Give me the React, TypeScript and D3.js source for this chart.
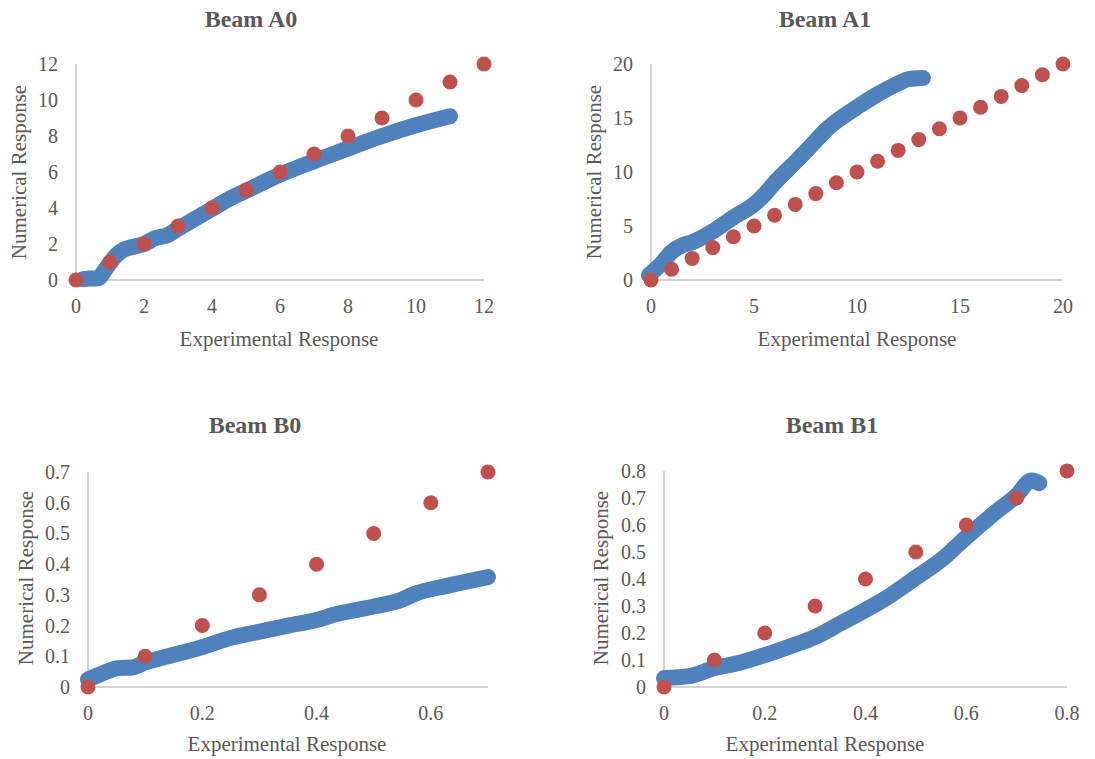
import React, { useEffect, useRef } from "react";
import * as d3 from "d3";

// numerical (blue) series, [experimental, numerical]
const beamA0Numerical = [
  [0.2, 0.05], [0.4, 0.08], [0.65, 0.1], [0.85, 0.55], [1.0, 0.95], [1.2, 1.4],
  [1.4, 1.68], [1.7, 1.85], [2.0, 2.0], [2.3, 2.3], [2.7, 2.5], [3.0, 2.85],
  [3.5, 3.4], [4.0, 3.95], [4.5, 4.5], [5.0, 4.95], [6.0, 5.85], [7.0, 6.6],
  [8.0, 7.3], [9.0, 8.0], [10.0, 8.6], [11.0, 9.1],
];
const beamA1Numerical = [
  [-0.1, 0.45], [0.5, 1.5], [1.0, 2.6], [1.5, 3.2], [2.0, 3.5], [3.0, 4.5],
  [4.0, 5.8], [5.0, 7.0], [5.5, 7.9], [6.0, 9.0], [7.0, 10.9], [8.0, 12.9],
  [8.5, 13.9], [9.0, 14.7], [10.0, 16.0], [11.0, 17.2], [12.0, 18.2],
  [12.5, 18.6], [13.2, 18.7],
];
const beamB0Numerical = [
  [0.0, 0.025], [0.02, 0.04], [0.054, 0.062], [0.075, 0.063], [0.1, 0.08],
  [0.14, 0.1], [0.2, 0.13], [0.25, 0.16], [0.3, 0.18], [0.35, 0.2], [0.4, 0.218],
  [0.43, 0.235], [0.5, 0.262], [0.55, 0.285], [0.57, 0.302], [0.63, 0.33],
  [0.7, 0.358],
];
const beamB1Numerical = [
  [0.0, 0.033], [0.05, 0.04], [0.1, 0.07], [0.15, 0.09], [0.2, 0.118],
  [0.25, 0.15], [0.3, 0.185], [0.35, 0.235], [0.4, 0.285], [0.45, 0.34],
  [0.5, 0.405], [0.55, 0.47], [0.6, 0.555], [0.65, 0.635], [0.7, 0.71],
  [0.73, 0.765], [0.745, 0.755],
];

// experimental (red) reference points
const beamA0Reference = [0, 1, 2, 3, 4, 5, 6, 7, 8, 9, 10, 11, 12];
const beamA1Reference = [0, 1, 2, 3, 4, 5, 6, 7, 8, 9, 10, 11, 12, 13, 14, 15, 16, 17, 18, 19, 20];
const beamB0Reference = [0, 0.1, 0.2, 0.3, 0.4, 0.5, 0.6, 0.7];
const beamB1Reference = [0, 0.1, 0.2, 0.3, 0.4, 0.5, 0.6, 0.7, 0.8];

// tick labels
const ticksA0 = [0, 2, 4, 6, 8, 10, 12];
const ticksA1 = [0, 5, 10, 15, 20];
const ticksB0x = [0, 0.2, 0.4, 0.6];
const ticksB0y = [0, 0.1, 0.2, 0.3, 0.4, 0.5, 0.6, 0.7];
const ticksB1x = [0, 0.2, 0.4, 0.6, 0.8];
const ticksB1y = [0, 0.1, 0.2, 0.3, 0.4, 0.5, 0.6, 0.7, 0.8];

const panels = [
  {
    title: "Beam A0", numerical: beamA0Numerical, reference: beamA0Reference,
    xMax: 12, yMax: 12, xTicks: ticksA0, yTicks: ticksA0,
    box: { left: 76, right: 484, top: 64, bottom: 280 },
    titleX: 251, titleY: 27, xTitleX: 279, xTitleY: 346, yTitleX: 19, yTitleY: 172,
  },
  {
    title: "Beam A1", numerical: beamA1Numerical, reference: beamA1Reference,
    xMax: 20, yMax: 20, xTicks: ticksA1, yTicks: ticksA1,
    box: { left: 651, right: 1063, top: 64, bottom: 280 },
    titleX: 825, titleY: 27, xTitleX: 857, xTitleY: 346, yTitleX: 594, yTitleY: 172,
  },
  {
    title: "Beam B0", numerical: beamB0Numerical, reference: beamB0Reference,
    xMax: 0.7, yMax: 0.7, xTicks: ticksB0x, yTicks: ticksB0y,
    box: { left: 88, right: 488, top: 472, bottom: 687 },
    titleX: 255, titleY: 433, xTitleX: 287, xTitleY: 751, yTitleX: 26, yTitleY: 578,
  },
  {
    title: "Beam B1", numerical: beamB1Numerical, reference: beamB1Reference,
    xMax: 0.8, yMax: 0.8, xTicks: ticksB1x, yTicks: ticksB1y,
    box: { left: 664, right: 1067, top: 471, bottom: 687 },
    titleX: 832, titleY: 433, xTitleX: 825, xTitleY: 751, yTitleX: 601, yTitleY: 578,
  },
];

const BLUE = "#4F81BD";
const RED = "#C0504D";
const TEXT = "#595959";
const FONT = "'Liberation Serif', 'Times New Roman', serif";

const App = () => {
  const svgRef = useRef(null);

  useEffect(() => {
    const svg = d3.select(svgRef.current);
    svg.selectAll("*").remove();

    panels.forEach((p) => {
      const g = svg.append("g");
      const x = d3.scaleLinear().domain([0, p.xMax]).range([p.box.left, p.box.right]);
      const y = d3.scaleLinear().domain([0, p.yMax]).range([p.box.bottom, p.box.top]);

      // axis lines
      g.append("line")
        .attr("x1", x(0)).attr("x2", x(0))
        .attr("y1", y(0)).attr("y2", y(p.yMax))
        .attr("stroke", "#c4c4c4").attr("stroke-width", 1.5);
      g.append("line")
        .attr("x1", x(0)).attr("x2", x(p.xMax))
        .attr("y1", y(0)).attr("y2", y(0))
        .attr("stroke", "#c4c4c4").attr("stroke-width", 1.5);

      // tick labels
      g.selectAll(".ytick").data(p.yTicks).join("text")
        .attr("x", x(0) - 18).attr("y", (d) => y(d))
        .attr("dy", "0.35em").attr("text-anchor", "end")
        .attr("font-family", FONT).attr("font-size", 20).attr("fill", TEXT)
        .text((d) => String(d));
      g.selectAll(".xtick").data(p.xTicks).join("text")
        .attr("x", (d) => x(d)).attr("y", y(0) + 33)
        .attr("text-anchor", "middle")
        .attr("font-family", FONT).attr("font-size", 20).attr("fill", TEXT)
        .text((d) => String(d));

      // numerical response: dense markers, drawn as a thick round line
      const line = d3.line().x((d) => x(d[0])).y((d) => y(d[1])).curve(d3.curveMonotoneX);
      g.append("path")
        .attr("d", line(p.numerical))
        .attr("fill", "none").attr("stroke", BLUE)
        .attr("stroke-width", 16)
        .attr("stroke-linecap", "round").attr("stroke-linejoin", "round");

      // reference points
      g.selectAll(".ref").data(p.reference).join("circle")
        .attr("cx", (d) => x(d)).attr("cy", (d) => y(d))
        .attr("r", 7.5).attr("fill", RED);

      // titles
      g.append("text")
        .attr("x", p.titleX).attr("y", p.titleY)
        .attr("text-anchor", "middle")
        .attr("font-family", FONT).attr("font-size", 24).attr("font-weight", "bold")
        .attr("fill", TEXT).text(p.title);
      g.append("text")
        .attr("x", p.xTitleX).attr("y", p.xTitleY)
        .attr("text-anchor", "middle")
        .attr("font-family", FONT).attr("font-size", 21).attr("fill", TEXT)
        .text("Experimental Response");
      g.append("text")
        .attr("transform", `translate(${p.yTitleX},${p.yTitleY}) rotate(-90)`)
        .attr("dy", "0.35em").attr("text-anchor", "middle")
        .attr("font-family", FONT).attr("font-size", 21).attr("fill", TEXT)
        .text("Numerical Response");
    });
  }, []);

  return (
    <svg
      ref={svgRef}
      width={1095}
      height={759}
      style={{ position: "absolute", left: 0, top: 0, background: "#fff" }}
    />
  );
};

export default App;
